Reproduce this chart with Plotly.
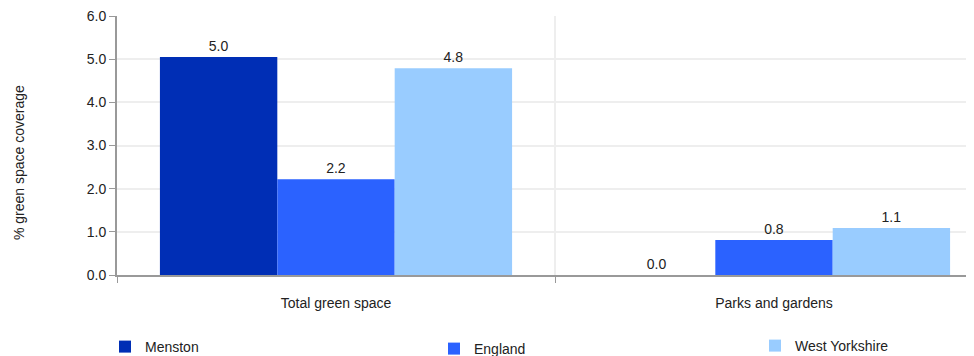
import plotly.graph_objects as go

categories = ["Total green space", "Parks and gardens"]
menston = [5.05, 0.0]
england = [2.22, 0.81]
west_yorkshire = [4.79, 1.09]
series_names = ["Menston", "England", "West Yorkshire"]
y_tick_vals = [0, 1, 2, 3, 4, 5, 6]
y_title = "% green space coverage"

colors = ["#002EB5", "#2B62FF", "#99CCFF"]
font_family = "Liberation Sans, Arial, sans-serif"
W, H = 974, 356
OFF = 8  # page body margin offset
PLOT_L, PLOT_T, PLOT_B, PLOT_R = 117, 16, 275, 974  # screen px

fig = go.Figure()
legend_ids = ["legend", "legend2", "legend3"]
for name, vals, col, lg in zip(series_names, [menston, england, west_yorkshire], colors, legend_ids):
    fig.add_trace(go.Bar(
        name=name, x=categories, y=vals,
        marker=dict(color=col, line=dict(width=0)),
        texttemplate="%{y:.1f}", textposition="outside",
        textfont=dict(size=14, color="#222222", family=font_family),
        cliponaxis=False, legend=lg,
    ))

# (text start x, item center y) in screen pixels
legend_px = [(146, 347), (475, 349), (796, 346)]
leg_common = dict(orientation="h", xref="container", yref="container",
                  xanchor="left", yanchor="middle", bgcolor="rgba(0,0,0,0)",
                  font=dict(size=14, color="#222222", family=font_family))
legends = {}
for lg, (px, py) in zip(legend_ids, legend_px):
    legends[lg] = dict(x=(px - OFF - 41) / W, y=(H - (py - OFF)) / H, **leg_common)

plot_w = PLOT_R - PLOT_L
plot_h = PLOT_B - PLOT_T
title_x, title_y = 19, 163  # screen px

fig.update_layout(
    width=W, height=H,
    margin=dict(l=PLOT_L - OFF, r=W - (PLOT_R - OFF), t=PLOT_T - OFF, b=H - (PLOT_B - OFF), autoexpand=False),
    paper_bgcolor="white", plot_bgcolor="white",
    barmode="group", bargap=0.196, bargroupgap=0,
    font=dict(family=font_family, size=14, color="#222222"),
    showlegend=True,
    annotations=[dict(
        text=y_title, textangle=-90, showarrow=False,
        xref="paper", yref="paper",
        x=(title_x - PLOT_L) / plot_w, y=(PLOT_B - title_y) / plot_h,
        xanchor="center", yanchor="middle",
        font=dict(size=14, color="#222222", family=font_family),
    )],
    **legends,
)
fig.update_xaxes(
    type="category", range=[-0.5, 1.4566],
    tickson="boundaries", ticks="outside", ticklen=6, tickcolor="#999999",
    showgrid=True, gridcolor="#EEEEEE", gridwidth=2,
    showline=True, linecolor="#999999", linewidth=2,
    ticklabelstandoff=14, automargin=False,
    tickfont=dict(size=14, color="#222222"),
)
fig.update_yaxes(
    range=[0, 6], tickvals=y_tick_vals, tickformat=".1f",
    ticks="outside", ticklen=6, tickcolor="#999999",
    showgrid=True, gridcolor="#EEEEEE", gridwidth=2,
    showline=True, linecolor="#999999", linewidth=2,
    zeroline=False, ticklabelstandoff=0, ticklabeloverflow="allow",
    tickfont=dict(size=14, color="#222222"),
    automargin=False,
)

fig.write_html("out.html")
